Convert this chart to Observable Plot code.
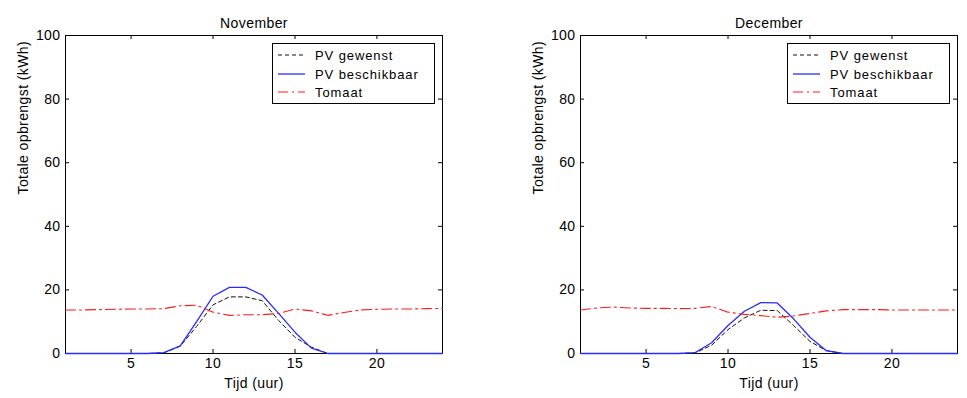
<!DOCTYPE html>
<html>
<head>
<meta charset="utf-8">
<script src="https://cdn.jsdelivr.net/npm/d3@7"></script>
<script src="https://cdn.jsdelivr.net/npm/@observablehq/plot@0.6"></script>
<style>
  body { margin: 0; background: #fff; }
  #chart { position: relative; width: 967px; height: 398px; overflow: hidden; }
  #chart > svg { position: absolute; top: 0; }
  .legend { position: absolute; }
</style>
</head>
<body>
<div id="chart"></div>
<script>
// Hours of the day
const hours = [1,2,3,4,5,6,7,8,9,10,11,12,13,14,15,16,17,18,19,20,21,22,23,24];

// November (kWh per hour)
const novGewenst     = [0,0,0,0,0,0,0.2,2.3,8.5,15.3,17.8,17.8,16.6,10.4,5.1,2.0,0,0,0,0,0,0,0,0];
const novBeschikbaar = [0,0,0,0,0,0,0.3,2.4,10.0,18.0,20.8,20.8,18.4,12.6,6.7,1.7,0,0,0,0,0,0,0,0];
const novTomaat      = [13.7,13.7,13.8,13.9,14.0,14.0,14.1,15.0,15.2,13.0,12.0,12.2,12.2,12.6,14.0,13.4,12.0,12.9,13.7,13.9,14.0,14.0,14.1,14.2];

// December (kWh per hour)
const decGewenst     = [0,0,0,0,0,0,0,0.2,2.6,7.5,11.2,13.6,13.5,8.8,3.8,0.9,0,0,0,0,0,0,0,0];
const decBeschikbaar = [0,0,0,0,0,0,0,0.3,3.4,8.8,13.3,16.0,15.9,10.9,5.1,0.9,0,0,0,0,0,0,0,0];
const decTomaat      = [13.7,14.3,14.6,14.3,14.2,14.2,14.1,14.2,14.8,13.0,12.3,11.9,11.4,11.8,12.6,13.4,13.8,13.8,13.8,13.7,13.7,13.7,13.7,13.7];

// Axis ticks and text
const xTicks = [5, 10, 15, 20];
const yTicks = [0, 20, 40, 60, 80, 100];
const seriesNames = ["PV gewenst", "PV beschikbaar", "Tomaat"];
const months = ["November", "December"];
const xLabel = "Tijd (uur)";
const yLabel = "Totale opbrengst (kWh)";

// Line styles per series
const styles = [
  {stroke: "#111111", width: 1, dash: "4,3"},
  {stroke: "#2a2aff", width: 1.3, dash: null},
  {stroke: "#ff1a1a", width: 1.1, dash: "10,4,2,4"}
];

const FONT = '"Liberation Sans", Arial, sans-serif';
const H = 398, MT = 35, MB = 45;
const plotH = H - MT - MB;

function panel(title, series, layout) {
  const plotW = layout.width - layout.marginLeft - layout.marginRight;
  const marks = [
    Plot.frame({stroke: "#000"}),
    // inward ticks on all four sides
    Plot.tickX(xTicks, {x: d => d, stroke: "#000", insetTop: plotH - 4}),
    Plot.tickX(xTicks, {x: d => d, stroke: "#000", insetBottom: plotH - 4}),
    Plot.tickY(yTicks, {y: d => d, stroke: "#000", insetRight: plotW - 4}),
    Plot.tickY(yTicks, {y: d => d, stroke: "#000", insetLeft: plotW - 4}),
    Plot.axisX({ticks: xTicks, tickSize: 0, tickPadding: 5}),
    Plot.axisY({ticks: yTicks, tickSize: 0, tickPadding: 5}),
    Plot.text([title], {text: d => d, frameAnchor: "top", dy: -17}),
    Plot.text([xLabel], {text: d => d, frameAnchor: "bottom", dy: 34}),
    Plot.text([yLabel], {text: d => d, frameAnchor: "left", rotate: -90, dx: -42})
  ];
  series.forEach((vals, i) => {
    const rows = hours.map((h, j) => ({h, v: vals[j]}));
    marks.push(Plot.line(rows, {
      x: "h", y: "v",
      stroke: styles[i].stroke,
      strokeWidth: styles[i].width,
      strokeDasharray: styles[i].dash
    }));
  });
  const svg = Plot.plot({
    width: layout.width,
    height: H,
    marginTop: MT,
    marginBottom: MB,
    marginLeft: layout.marginLeft,
    marginRight: layout.marginRight,
    x: {domain: [1, 24], label: null, axis: null},
    y: {domain: [0, 100], label: null, axis: null},
    style: {fontFamily: FONT, fontSize: "14px", color: "#000", background: "transparent", letterSpacing: "0.4px"},
    marks
  });
  svg.style.left = layout.left + "px";
  return {svg, plotW};
}

function legend(layout, plotW) {
  const w = 163, h = 61;
  const svg = d3.create("svg").attr("class", "legend")
    .attr("width", w).attr("height", h)
    .style("left", (layout.left + layout.marginLeft + plotW - 7 - w) + "px")
    .style("top", (MT + 8) + "px");
  svg.append("rect").attr("x", 0.5).attr("y", 0.5).attr("width", w - 1).attr("height", h - 1)
    .attr("fill", "#fff").attr("stroke", "#000");
  seriesNames.forEach((name, i) => {
    const y = Math.round(12 + i * 18.5);
    svg.append("line").attr("x1", 6).attr("x2", 33).attr("y1", y).attr("y2", y)
      .attr("stroke", styles[i].stroke).attr("stroke-width", styles[i].width)
      .attr("stroke-dasharray", styles[i].dash);
    svg.append("text").attr("x", 43).attr("y", y).attr("dy", "0.35em")
      .attr("font-family", FONT).attr("font-size", 13).attr("letter-spacing", "0.9px")
      .attr("fill", "#000").text(name);
  });
  return svg.node();
}

const chart = document.getElementById("chart");
const layouts = [
  {left: 0, width: 483, marginLeft: 65, marginRight: 41},
  {left: 483, width: 484, marginLeft: 97, marginRight: 10}
];
const data = [
  [novGewenst, novBeschikbaar, novTomaat],
  [decGewenst, decBeschikbaar, decTomaat]
];
months.forEach((m, k) => {
  const {svg, plotW} = panel(m, data[k], layouts[k]);
  chart.appendChild(svg);
  chart.appendChild(legend(layouts[k], plotW));
});
</script>
</body>
</html>
